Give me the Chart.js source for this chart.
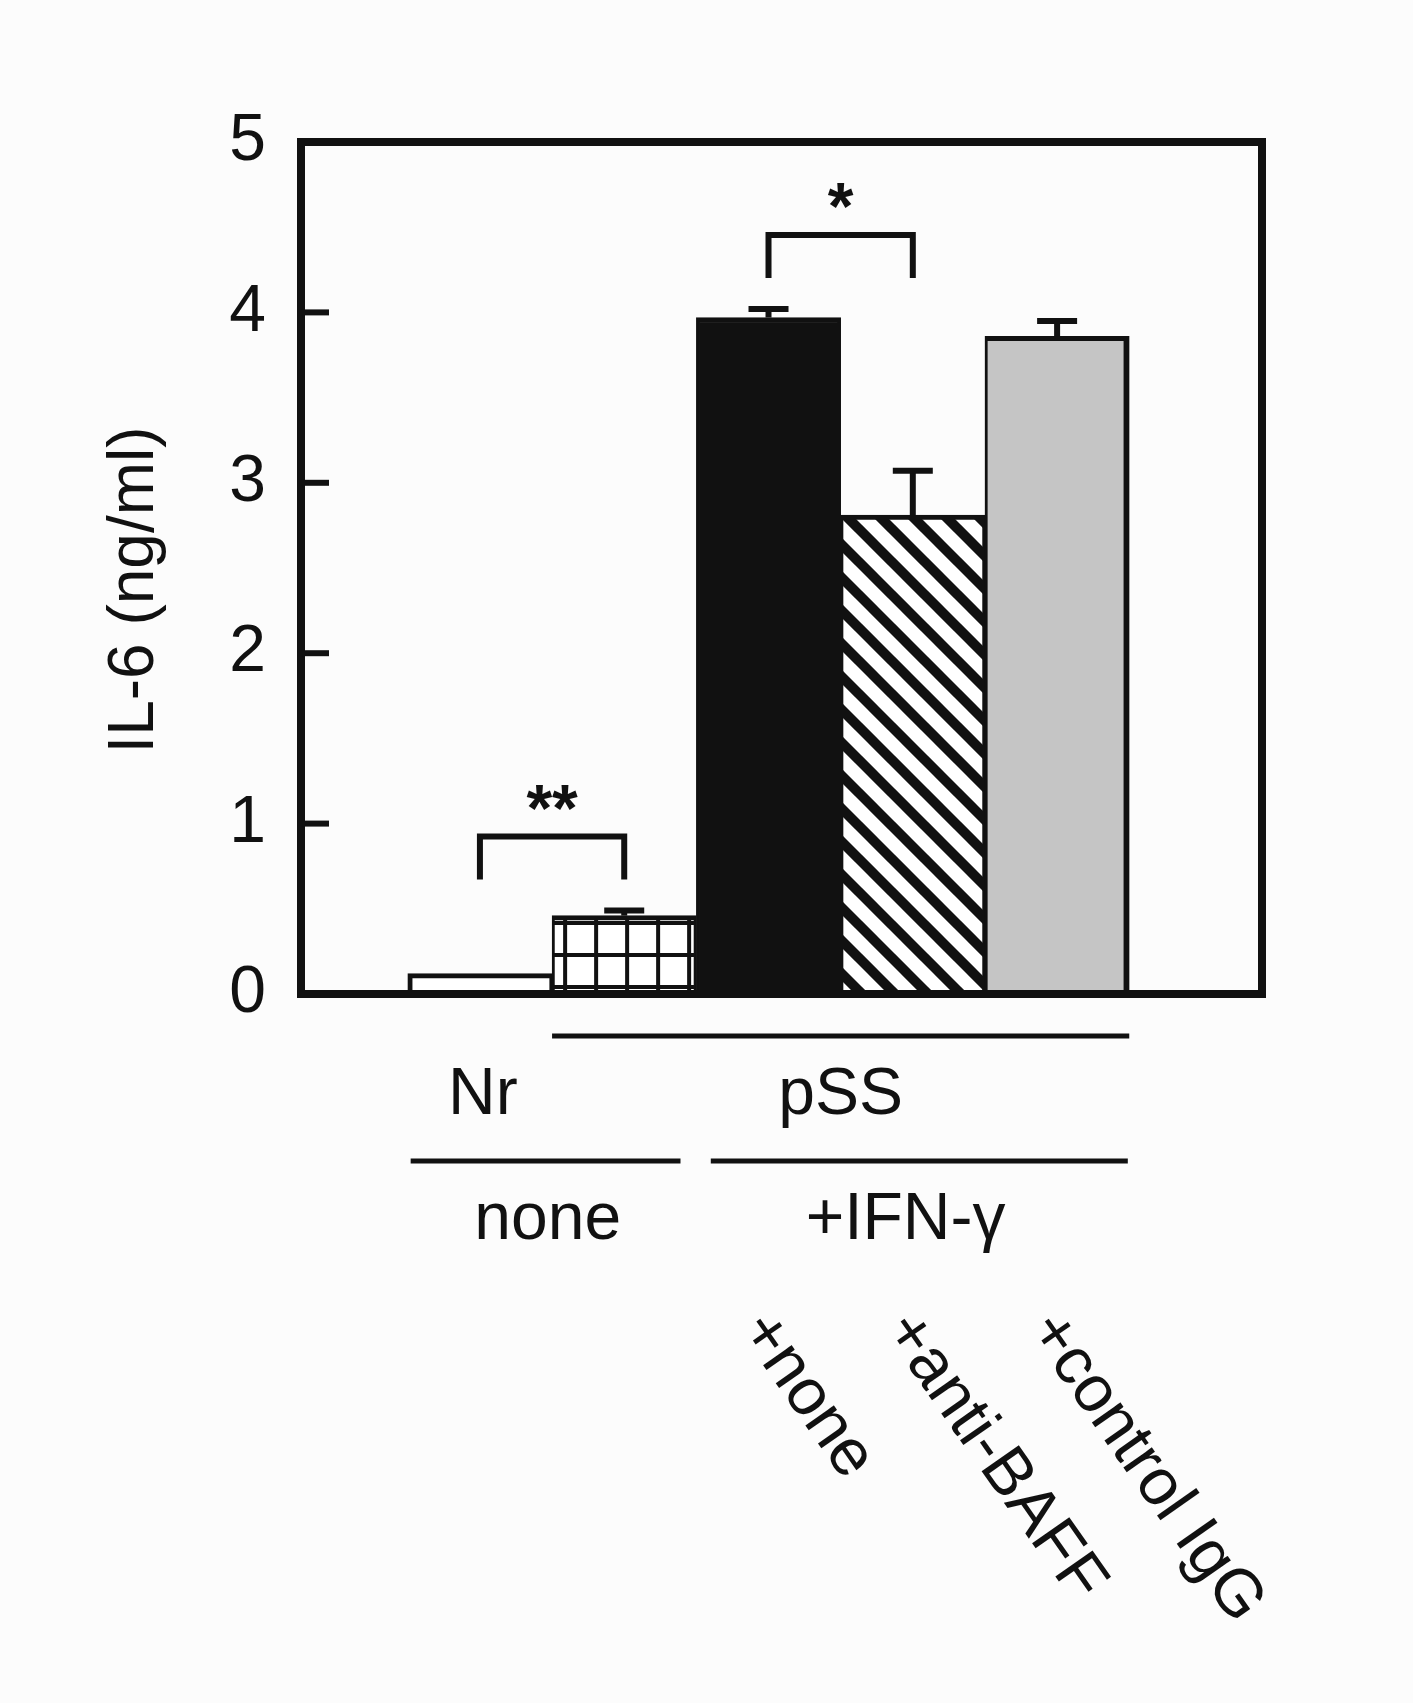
<!DOCTYPE html>
<html>
<head>
    <title>IL-6 (ng/ml)</title>
    <script src="https://cdn.jsdelivr.net/npm/chart.js"></script>
    <style>
        html, body { margin: 0; padding: 0; background: #fcfcfc; }
        #wrap { width: 1413px; height: 1703px; }
    </style>
</head>
<body>
    <div id="wrap"><canvas id="il6Chart" width="1413" height="1703"></canvas></div>

    <script>
        // bars, left to right
        const barNames = ['Nr / none', 'pSS / none', 'pSS / +IFN-γ +none', 'pSS / +IFN-γ +anti-BAFF', 'pSS / +IFN-γ +control IgG'];
        const barSlots = [1, 2, 3, 4, 5];
        const il6Mean = [0.12, 0.46, 3.97, 2.81, 3.86];
        const il6Err = [0, 0.03, 0.05, 0.26, 0.09];
        const yTickValues = [0, 1, 2, 3, 4, 5];
        const yTitle = 'IL-6 (ng/ml)';
        const donorLabels = ['Nr', 'pSS'];
        const stimLabels = ['none', '+IFN-γ'];
        const treatmentLabels = ['', '', '+none', '+anti-BAFF', '+control IgG'];
        const sigPairs = [[0, 1], [2, 3]];
        const sigMarks = ['**', '*'];

        const FONT = '"Liberation Sans", Arial, sans-serif';
        const INK = '#111';
        const TEXT_SIZE = 66;

        // where the rows under the axis go (x in bar-slot units, y in px below the axis)
        const rows = {
            donorLineSpan: [1.5, 5.5], donorLineY: 42,
            donorTextX: [1.02, 3.5], donorTextY: 120,
            stimLineSpans: [[0.52, 2.39], [2.6, 5.49]], stimLineY: 167,
            stimTextX: [1.47, 3.95], stimTextY: 245,
            treatDx: -30, treatY: 336, treatAngle: 55
        };

        function makeGridPattern() {
            const c = document.createElement('canvas');
            c.width = 31; c.height = 32;
            const g = c.getContext('2d');
            g.fillStyle = '#fff';
            g.fillRect(0, 0, 31, 32);
            g.fillStyle = INK;
            g.fillRect(0, 0, 4, 32);
            g.fillRect(0, 0, 31, 4);
            return g.createPattern(c, 'repeat');
        }

        function makeHatchPattern() {
            const s = 33;
            const c = document.createElement('canvas');
            c.width = s; c.height = s;
            const g = c.getContext('2d');
            g.fillStyle = '#fff';
            g.fillRect(0, 0, s, s);
            g.strokeStyle = INK;
            g.lineWidth = 10;
            for (const k of [-1, 0, 1]) {
                g.beginPath();
                g.moveTo(k * s - 5, -5);
                g.lineTo(k * s + s + 5, s + 5);
                g.stroke();
            }
            return g.createPattern(c, 'repeat');
        }

        const gridPattern = makeGridPattern();
        const hatchPattern = makeHatchPattern();

        // outer edges of the bar block get the full outline, shared edges split it
        const barBorders = barSlots.map((s, i) => ({
            top: 5,
            left: i === 0 ? 5 : 3,
            right: i === barSlots.length - 1 ? 6 : 3,
            bottom: 0
        }));

        function line(ctx, x1, y1, x2, y2) {
            ctx.beginPath();
            ctx.moveTo(x1, y1);
            ctx.lineTo(x2, y2);
            ctx.stroke();
        }

        const decorations = {
            id: 'decorations',
            beforeDatasetsDraw(chart) {
                const { x, y } = chart.scales;
                // anchor the check pattern to its own bar
                const left = x.getPixelForValue(barSlots[1] - 0.5);
                gridPattern.setTransform(new DOMMatrix().translate(left + 11, y.getPixelForValue(0) - 9));
            },
            afterDraw(chart) {
                const ctx = chart.ctx;
                const { x, y } = chart.scales;
                const area = chart.chartArea;
                ctx.save();
                ctx.strokeStyle = INK;
                ctx.fillStyle = INK;
                ctx.lineCap = 'butt';
                ctx.lineJoin = 'miter';

                // error bars (upper half only)
                ctx.lineWidth = 6;
                barSlots.forEach((slot, i) => {
                    if (!il6Err[i]) return;
                    const cx = x.getPixelForValue(slot);
                    const top = y.getPixelForValue(il6Mean[i] + il6Err[i]);
                    line(ctx, cx, y.getPixelForValue(il6Mean[i]), cx, top);
                    line(ctx, cx - 20, top, cx + 20, top);
                });

                // frame and inward ticks
                ctx.lineWidth = 8;
                ctx.strokeRect(area.left, area.top, area.right - area.left, area.bottom - area.top);
                ctx.lineWidth = 6;
                yTickValues.forEach(v => {
                    const py = y.getPixelForValue(v);
                    line(ctx, area.left, py, area.left + 28, py);
                });

                // significance brackets
                ctx.font = 'bold ' + TEXT_SIZE + 'px ' + FONT;
                ctx.textAlign = 'center';
                ctx.textBaseline = 'alphabetic';
                sigPairs.forEach(([a, b], k) => {
                    const x1 = x.getPixelForValue(barSlots[a]);
                    const x2 = x.getPixelForValue(barSlots[b]);
                    const highest = Math.min(
                        y.getPixelForValue(il6Mean[a] + il6Err[a]),
                        y.getPixelForValue(il6Mean[b] + il6Err[b]));
                    const legEnd = highest - 31;
                    const top = legEnd - 43;
                    ctx.beginPath();
                    ctx.moveTo(x1, legEnd);
                    ctx.lineTo(x1, top);
                    ctx.lineTo(x2, top);
                    ctx.lineTo(x2, legEnd);
                    ctx.stroke();
                    ctx.fillText(sigMarks[k], (x1 + x2) / 2, top - 6);
                });

                // group rows under the axis
                const base = area.bottom;
                ctx.font = TEXT_SIZE + 'px ' + FONT;
                ctx.lineWidth = 5;
                line(ctx, x.getPixelForValue(rows.donorLineSpan[0]), base + rows.donorLineY,
                    x.getPixelForValue(rows.donorLineSpan[1]), base + rows.donorLineY);
                donorLabels.forEach((t, i) => {
                    ctx.fillText(t, x.getPixelForValue(rows.donorTextX[i]), base + rows.donorTextY);
                });
                rows.stimLineSpans.forEach(([from, to]) => {
                    line(ctx, x.getPixelForValue(from), base + rows.stimLineY,
                        x.getPixelForValue(to), base + rows.stimLineY);
                });
                stimLabels.forEach((t, i) => {
                    ctx.fillText(t, x.getPixelForValue(rows.stimTextX[i]), base + rows.stimTextY);
                });

                // slanted treatment labels
                ctx.textAlign = 'left';
                treatmentLabels.forEach((t, i) => {
                    if (!t) return;
                    ctx.save();
                    ctx.translate(x.getPixelForValue(barSlots[i]) + rows.treatDx, base + rows.treatY);
                    ctx.rotate(rows.treatAngle * Math.PI / 180);
                    ctx.fillText(t, 0, 0);
                    ctx.restore();
                });

                // y axis title
                ctx.font = '64px ' + FONT;
                ctx.save();
                ctx.translate(area.left - 148, (area.top + area.bottom) / 2 + 22);
                ctx.rotate(-Math.PI / 2);
                ctx.textAlign = 'center';
                ctx.fillText(yTitle, 0, 0);
                ctx.restore();

                ctx.restore();
            }
        };

        new Chart(document.getElementById('il6Chart'), {
            type: 'bar',
            data: {
                labels: barNames,
                datasets: [{
                    label: yTitle,
                    data: barSlots.map((slot, i) => ({ x: slot, y: il6Mean[i] })),
                    backgroundColor: ['#ffffff', gridPattern, INK, hatchPattern, '#c5c5c5'],
                    borderColor: INK,
                    borderWidth: barBorders,
                    borderSkipped: 'start',
                    barPercentage: 1,
                    categoryPercentage: 1
                }]
            },
            options: {
                responsive: false,
                animation: false,
                devicePixelRatio: 1,
                layout: { padding: { left: 0, top: 142, right: 151, bottom: 709 } },
                plugins: {
                    legend: { display: false },
                    tooltip: { enabled: false }
                },
                scales: {
                    x: {
                        type: 'linear',
                        display: false,
                        offset: false,
                        min: -0.24,
                        max: 6.42,
                        afterBuildTicks: s => { s.ticks = barSlots.map(v => ({ value: v })); }
                    },
                    y: {
                        min: 0,
                        max: 5,
                        grid: { display: false, drawTicks: false },
                        border: { display: false },
                        ticks: {
                            padding: 35,
                            color: INK,
                            font: { family: FONT, size: TEXT_SIZE }
                        },
                        afterBuildTicks: s => { s.ticks = yTickValues.map(v => ({ value: v })); },
                        afterFit: s => { s.width = 301; }
                    }
                }
            },
            plugins: [decorations]
        });
    </script>
</body>
</html>
